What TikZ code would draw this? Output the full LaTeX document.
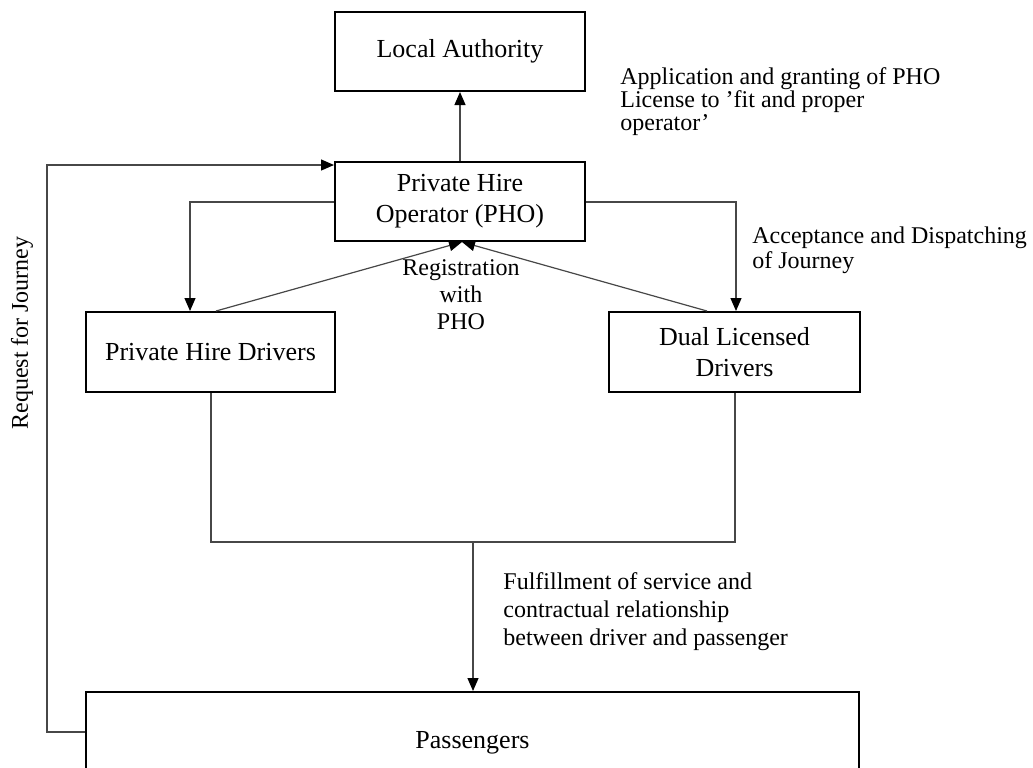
\documentclass[tikz,border=0pt]{standalone}
\usepackage{fontspec}
\setmainfont{Liberation Serif}
\usetikzlibrary{arrows.meta,calc}
\begin{document}
\begin{tikzpicture}[x=0.5pt,y=-0.5pt,
  box/.style={draw=black,line width=1pt,inner sep=0pt,align=center,
    font=\fontsize{13}{15.5}\selectfont},
  link/.style={draw=black!72,line width=0.6pt},
  arr/.style={link,-{Triangle[length=6.5pt,width=5.5pt,color=black]}},
  lbl/.style={inner sep=0pt,align=left}
]
\useasboundingbox (0,0) rectangle (1033,767);

% boxes
\node[box,minimum width=125pt,minimum height=39.5pt] (la) at (460,51.5) {Local Authority};
\node[box,minimum width=125pt,minimum height=39.5pt] (pho) at (460,201.5) {Private Hire\\Operator (PHO)};
\node[box,minimum width=124.5pt,minimum height=40pt] (phd) at (210.5,352) {Private Hire Drivers};
\node[box,minimum width=125.5pt,minimum height=40pt] (dld) at (734.5,352) {Dual Licensed\\Drivers};
\node[box,minimum width=386.5pt,minimum height=51pt] (pas) at (472.5,743) {Passengers};

% routing points
\coordinate (r1) at (47,732);
\coordinate (r2) at (47,165);
\coordinate (c1) at (190,202);
\coordinate (c2) at (736,202);
\coordinate (m1) at (211,542);
\coordinate (m2) at (735,542);
\coordinate (m3) at (473,542);

% licensing
\draw[arr] (pho.north) -- (la.south);
% request for journey
\draw[arr] (pas.west |- r1) -- (r1) -- (r2) -- (pho.west |- r2);
% dispatching
\draw[arr] (pho.west |- c1) -- (c1) -- (c1 |- phd.north);
\draw[arr] (pho.east |- c2) -- (c2) -- (c2 |- dld.north);
% registration
\draw[arr] ($(phd.north)+(5.5,0)$) -- ($(pho.south)+(2,0)$);
\draw[arr] ($(dld.north)+(-27.5,0)$) -- ($(pho.south)+(2,0)$);
% fulfilment
\draw[link] (m1 |- phd.south) -- (m1) -- (m2) -- (m2 |- dld.south);
\draw[arr] (m3) -- (m3 |- pas.north);

% labels
\node[lbl,anchor=west,font=\fontsize{12}{11.5}\selectfont] (app) at (620,102)
  {Application and granting of PHO\\License to ’fit and proper\\operator’};
\node[lbl,anchor=west,font=\fontsize{12}{12.5}\selectfont] (acc) at (752,250)
  {Acceptance and Dispatching\\of Journey};
\node[lbl,align=center,font=\fontsize{12}{13.5}\selectfont] (reg) at (461,295)
  {Registration\\with\\PHO};
\node[lbl,anchor=west,font=\fontsize{12}{14}\selectfont] (ful) at (503,612)
  {Fulfillment of service and\\contractual relationship\\between driver and passenger};
\node[lbl,rotate=90,font=\fontsize{12}{14}\selectfont] (req) at (22,333) {Request for Journey};
\end{tikzpicture}
\end{document}
